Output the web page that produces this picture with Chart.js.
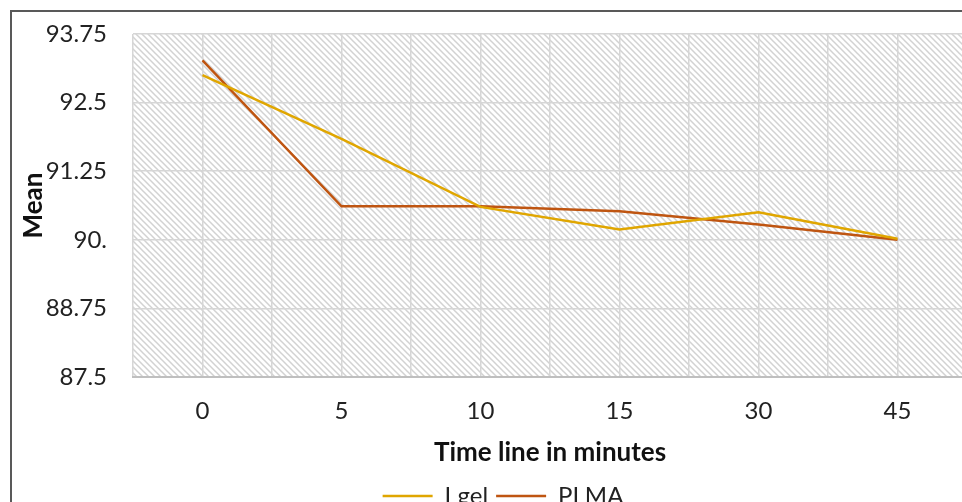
<!DOCTYPE html>
<html>
<head>
<meta charset="utf-8">
<script src="https://cdn.jsdelivr.net/npm/chart.js@4.4.1/dist/chart.umd.min.js"></script>
<style>
  html, body { margin: 0; padding: 0; background: #fff; overflow: hidden; }
  #wrap { position: absolute; left: 0; top: 0; width: 1000px; height: 518px; }
</style>
</head>
<body>
<div id="wrap"><canvas id="meanChart" width="1000" height="518"></canvas></div>
<script>
// Data
const categories = ['0', '5', '10', '15', '30', '45'];
const iGelMeans = [93.0, 91.84, 90.6, 90.19, 90.5, 90.02];
const plmaMeans = [93.27, 90.61, 90.61, 90.52, 90.28, 90.0];
const yTickLabels = ['87.5', '88.75', '90.', '91.25', '92.5', '93.75'];
const yStep = 1.25;

const FONT = 'Lato, "Open Sans", sans-serif';

// Diagonal hatch behind the plot area
const hatchPlugin = {
    id: 'hatch',
    beforeDraw(chart) {
        const { ctx, chartArea } = chart;
        const tile = document.createElement('canvas');
        tile.width = 6;
        tile.height = 6;
        const t = tile.getContext('2d');
        t.fillStyle = '#ffffff';
        t.fillRect(0, 0, 6, 6);
        t.strokeStyle = '#d2d2d2';
        t.lineWidth = 1.5;
        t.beginPath();
        t.moveTo(-1, -1); t.lineTo(7, 7);
        t.moveTo(-4, 2); t.lineTo(4, 10);
        t.moveTo(2, -4); t.lineTo(10, 4);
        t.stroke();
        ctx.save();
        ctx.fillStyle = '#ffffff';
        ctx.fillRect(0, 0, chart.width, chart.height);
        ctx.fillStyle = ctx.createPattern(tile, 'repeat');
        ctx.fillRect(chartArea.left, chartArea.top,
            chartArea.right - chartArea.left, chartArea.bottom - chartArea.top);
        ctx.restore();
    },
    afterDraw(chart) {
        // outer chart frame
        const ctx = chart.ctx;
        ctx.save();
        ctx.strokeStyle = '#595959';
        ctx.lineWidth = 2;
        ctx.strokeRect(11, 11, chart.width + 20, chart.height + 20);
        ctx.restore();
    }
};

const toPoints = arr => arr.map((v, i) => ({ x: i, y: v }));

new Chart(document.getElementById('meanChart'), {
    type: 'line',
    data: {
        datasets: [
            {
                label: 'I gel',
                data: toPoints(iGelMeans),
                borderColor: '#E0A600',
                backgroundColor: '#E0A600',
                borderWidth: 2.5,
                pointRadius: 0,
                pointStyle: 'line',
                tension: 0
            },
            {
                label: 'PLMA',
                data: toPoints(plmaMeans),
                borderColor: '#BF5511',
                backgroundColor: '#BF5511',
                borderWidth: 2.5,
                pointRadius: 0,
                pointStyle: 'line',
                tension: 0
            }
        ]
    },
    options: {
        responsive: false,
        animation: false,
        layout: {
            padding: { left: 10, right: 4, top: 34, bottom: 0 }
        },
        plugins: {
            legend: {
                position: 'bottom',
                labels: {
                    usePointStyle: true,
                    pointStyleWidth: 50,
                    boxWidth: 50,
                    boxHeight: 24,
                    padding: 8,
                    color: '#222',
                    font: { family: FONT, size: 24 }
                }
            },
            tooltip: { enabled: false }
        },
        scales: {
            x: {
                type: 'linear',
                min: -0.5,
                max: categories.length - 0.5,
                afterFit(scale) { scale.height = 99; },
                ticks: {
                    stepSize: 0.5,
                    autoSkip: false,
                    maxRotation: 0,
                    padding: 20,
                    color: '#222',
                    font: { family: FONT, size: 24 },
                    callback(value) {
                        return Number.isInteger(value) ? categories[value] : '';
                    }
                },
                grid: { color: '#d6d6d6', lineWidth: 1.5, drawTicks: false },
                border: { color: '#bfbfbf', width: 2 },
                title: {
                    display: true,
                    text: 'Time line in minutes',
                    color: '#111',
                    padding: { top: 0, bottom: 8 },
                    font: { family: FONT, size: 26, weight: 'bold' }
                }
            },
            y: {
                min: parseFloat(yTickLabels[0]),
                max: parseFloat(yTickLabels[yTickLabels.length - 1]),
                afterFit(scale) {
                    scale.width = 123;
                    scale.paddingTop = 0;
                    scale.paddingBottom = 0;
                },
                ticks: {
                    stepSize: yStep,
                    padding: 26,
                    color: '#222',
                    font: { family: FONT, size: 24 },
                    callback(value) {
                        const idx = Math.round((value - parseFloat(yTickLabels[0])) / yStep);
                        return yTickLabels[idx];
                    }
                },
                grid: { color: '#d6d6d6', lineWidth: 1.5, drawTicks: false },
                border: { display: false },
                title: {
                    display: true,
                    text: 'Mean',
                    color: '#111',
                    padding: { top: 8, bottom: 0 },
                    font: { family: FONT, size: 26, weight: 'bold' }
                }
            },
            yRight: {
                position: 'right',
                min: 0,
                max: 1,
                afterFit(scale) {
                    scale.width = 29;
                    scale.paddingTop = 0;
                    scale.paddingBottom = 0;
                },
                ticks: { display: false },
                grid: { display: false },
                border: { display: false }
            }
        }
    },
    plugins: [hatchPlugin]
});
</script>
</body>
</html>
